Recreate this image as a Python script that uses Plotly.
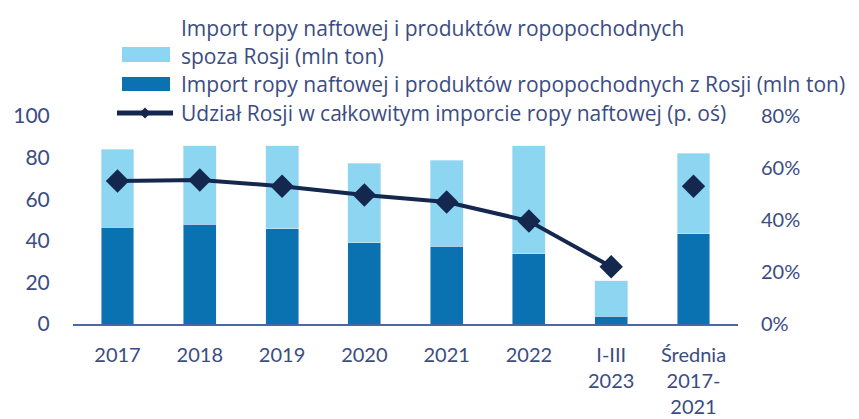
import plotly.graph_objects as go

categories = ["2017", "2018", "2019", "2020", "2021", "2022", "I-III<br>2023", "Średnia<br>2017-<br>2021"]
import_russia = [46.6, 48.0, 45.7, 39.0, 37.5, 33.7, 3.8, 43.3]
import_other = [37.4, 37.6, 39.9, 38.4, 41.3, 51.9, 16.9, 38.9]
share_russia = [55.0, 55.4, 53.0, 49.6, 46.9, 39.6, 22.0, 53.0]

left_ticks = [0, 20, 40, 60, 80, 100]
right_ticks = [0, 20, 40, 60, 80]
right_ticktext = ["0%", "20%", "40%", "60%", "80%"]

legend_labels = [
    "Import ropy naftowej i produktów ropopochodnych",
    "spoza Rosji (mln ton)",
    "Import ropy naftowej i produktów ropopochodnych z Rosji (mln ton)",
    "Udział Rosji w całkowitym imporcie ropy naftowej (p. oś)",
]

LIGHT = "#8dd6f2"
DARK = "#0b72b1"
NAVY = "#14274f"
TXT = "#3b4c82"
FONT = "Lato"
LFONT = "Open Sans"

W, H = 859, 419
OFF = 8  # page body margin
L, R, T, B = 73, 738, 116, 324  # plot area in screen px


def px_x(x):
    return (x - L) / (R - L)


def px_y(y):
    return (B - y) / (B - T)


fig = go.Figure()
fig.add_trace(go.Bar(x=categories, y=import_russia, marker_color=DARK, width=0.4,
                     name=legend_labels[2], showlegend=False))
fig.add_trace(go.Bar(x=categories, y=import_other, marker_color=LIGHT, width=0.4,
                     name=legend_labels[1], showlegend=False))
fig.add_trace(go.Scatter(x=categories[:7], y=share_russia[:7], yaxis="y2", mode="lines+markers",
                         line=dict(color=NAVY, width=4),
                         marker=dict(symbol="diamond", size=18, color=NAVY),
                         showlegend=False))
fig.add_trace(go.Scatter(x=categories[7:], y=share_russia[7:], yaxis="y2", mode="markers",
                         marker=dict(symbol="diamond", size=18, color=NAVY),
                         showlegend=False))

# custom legend
shapes = []
annotations = []
rows = [28, 56, 84, 113]
tx = px_x(179)
for i, lab in enumerate(legend_labels):
    annotations.append(dict(x=tx, y=px_y(rows[i]), xref="paper", yref="paper", text=lab,
                            showarrow=False, xanchor="left", yanchor="middle",
                            font=dict(family=LFONT, size=21, color=TXT)))
shapes.append(dict(type="rect", xref="paper", yref="paper", x0=px_x(122), x1=px_x(170),
                   y0=px_y(47), y1=px_y(62), fillcolor=LIGHT, line_width=0))
shapes.append(dict(type="rect", xref="paper", yref="paper", x0=px_x(122), x1=px_x(170),
                   y0=px_y(77), y1=px_y(91), fillcolor=DARK, line_width=0))
shapes.append(dict(type="line", xref="paper", yref="paper", x0=px_x(117), x1=px_x(173),
                   y0=px_y(113), y1=px_y(113), line=dict(color=NAVY, width=5)))
cx, cy, d = 145, 113, 5.5
shapes.append(dict(type="path", xref="paper", yref="paper",
                   path=f"M {px_x(cx-d)} {px_y(cy)} L {px_x(cx)} {px_y(cy-d)} L {px_x(cx+d)} {px_y(cy)} L {px_x(cx)} {px_y(cy+d)} Z",
                   fillcolor=NAVY, line_width=0))

fig.update_layout(
    width=W, height=H,
    margin=dict(l=L - OFF, r=W - (R - OFF), t=T - OFF, b=H - (B - OFF), pad=0, autoexpand=False),
    barmode="stack", bargap=0.6,
    plot_bgcolor="white", paper_bgcolor="white",
    showlegend=False,
    font=dict(family=FONT, color=TXT),
    xaxis=dict(showline=True, linecolor="#4a68a6", linewidth=2, showgrid=False, automargin=False,
               ticks="outside", ticklen=12, tickcolor="rgba(0,0,0,0)",
               tickfont=dict(family=FONT, size=20, color=TXT)),
    yaxis=dict(range=[0, 100], tickvals=left_ticks, showgrid=False, zeroline=False, automargin=False,
               ticks="outside", ticklen=18, tickcolor="rgba(0,0,0,0)",
               tickfont=dict(family=FONT, size=21, color=TXT)),
    yaxis2=dict(range=[0, 80], tickvals=right_ticks, ticktext=right_ticktext, overlaying="y",
                side="right", showgrid=False, zeroline=False, automargin=False,
                ticks="outside", ticklen=18, tickcolor="rgba(0,0,0,0)",
                tickfont=dict(family=FONT, size=20, color=TXT)),
    shapes=shapes, annotations=annotations,
)

fig.write_html("out.html")
